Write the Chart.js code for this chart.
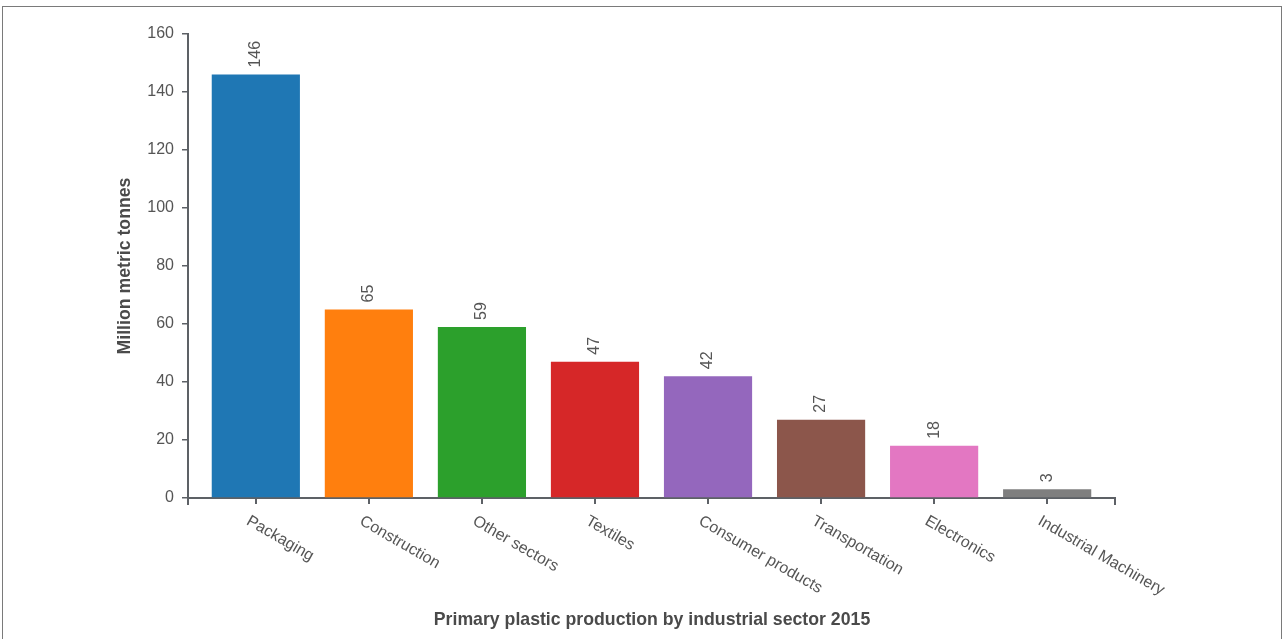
<!DOCTYPE html>
<html>
<head>
<meta charset="utf-8">
<script src="https://cdn.jsdelivr.net/npm/chart.js@4.4.1/dist/chart.umd.min.js"></script>
<style>
  body{margin:0;background:#fff;overflow:hidden;}
  #frame{position:absolute;left:2px;top:6px;width:1280px;height:700px;box-sizing:border-box;border:1px solid #7a7a7a;}
  #plastic-chart{position:absolute;left:0;top:0;}
</style>
</head>
<body>
<div id="frame"></div>
<canvas id="plastic-chart" width="1282" height="639"></canvas>
<script>
// data
let sectors=['Packaging','Construction','Other sectors','Textiles','Consumer products','Transportation','Electronics','Industrial Machinery'];
let tonnes=[146,65,59,47,42,27,18,3];
let barColors=['#1f77b4','#ff7f0e','#2ca02c','#d62728','#9467bd','#8c564b','#e377c2','#7f7f7f'];
let yTicks=[0,20,40,60,80,100,120,140,160];
let yLabel='Million metric tonnes';
let chartTitle='Primary plastic production by industrial sector 2015';

const axisColor='#5d6166';
const textColor='#555';
const fontFam='"Liberation Sans", Arial, sans-serif';

// value labels on top of bars, rotated
const valueLabels={
  id:'valueLabels',
  afterDatasetsDraw(chart){
    let ctx=chart.ctx;
    chart.getDatasetMeta(0).data.forEach((bar,i)=>{
      ctx.save();
      ctx.translate(bar.x, bar.y-7);
      ctx.rotate(-Math.PI/2);
      ctx.font='16px '+fontFam;
      ctx.fillStyle=textColor;
      ctx.textAlign='left';
      ctx.textBaseline='middle';
      ctx.fillText(String(tonnes[i]),0,0);
      ctx.restore();
    });
  }
};

// slanted category labels, axis end caps, titles
const extras={
  id:'extras',
  afterDraw(chart){
    let ctx=chart.ctx, x=chart.scales.x, area=chart.chartArea;
    ctx.save();
    ctx.font='16px '+fontFam;
    ctx.fillStyle=textColor;
    ctx.textAlign='left';
    ctx.textBaseline='top';
    sectors.forEach((s,i)=>{
      ctx.save();
      ctx.translate(x.getPixelForValue(i), area.bottom);
      ctx.rotate(Math.PI/6);
      ctx.fillText(s,4,15);
      ctx.restore();
    });
    // outer ticks
    ctx.strokeStyle=axisColor; ctx.lineWidth=2;
    ctx.beginPath();
    ctx.moveTo(area.left, area.bottom); ctx.lineTo(area.left, area.bottom+7);
    ctx.moveTo(area.right, area.bottom); ctx.lineTo(area.right, area.bottom+7);
    ctx.stroke();
    // y axis title
    ctx.save();
    ctx.translate(125, (area.top+area.bottom)/2);
    ctx.rotate(-Math.PI/2);
    ctx.font='bold 17.7px '+fontFam;
    ctx.fillStyle='#4a4a4a';
    ctx.textAlign='center'; ctx.textBaseline='middle';
    ctx.fillText(yLabel,0,0);
    ctx.restore();
    // bottom title
    ctx.font='bold 17.7px '+fontFam;
    ctx.fillStyle='#4a4a4a';
    ctx.textAlign='center'; ctx.textBaseline='middle';
    ctx.fillText(chartTitle,652,620);
    ctx.restore();
  }
};

new Chart(document.getElementById('plastic-chart'),{
  type:'bar',
  data:{
    datasets:[{
      data:tonnes.map((v,i)=>({x:i,y:v})),
      backgroundColor:barColors,
      borderWidth:0,
      categoryPercentage:1,
      barPercentage:0.78
    }]
  },
  options:{
    responsive:false,
    animation:false,
    layout:{padding:{left:0,top:34,right:167,bottom:0}},
    plugins:{legend:{display:false},tooltip:{enabled:false}},
    scales:{
      x:{
        type:'linear',
        offset:false,
        min:-0.6, max:7.6,
        afterFit(s){ s.height=141; },
        ticks:{display:false, stepSize:1, includeBounds:false},
        grid:{offset:false, drawOnChartArea:false, drawTicks:true, tickLength:6, color:axisColor, lineWidth:2},
        border:{color:axisColor, width:2}
      },
      y:{
        min:0, max:160,
        afterFit(s){ s.width=188; },
        afterBuildTicks(s){ s.ticks=yTicks.map(v=>({value:v})); },
        ticks:{color:textColor, font:{family:fontFam, size:16}, padding:8},
        grid:{drawOnChartArea:false, drawTicks:true, tickLength:6, color:axisColor, lineWidth:1.5},
        border:{color:axisColor, width:2}
      }
    }
  },
  plugins:[valueLabels, extras]
});
</script>
</body>
</html>
